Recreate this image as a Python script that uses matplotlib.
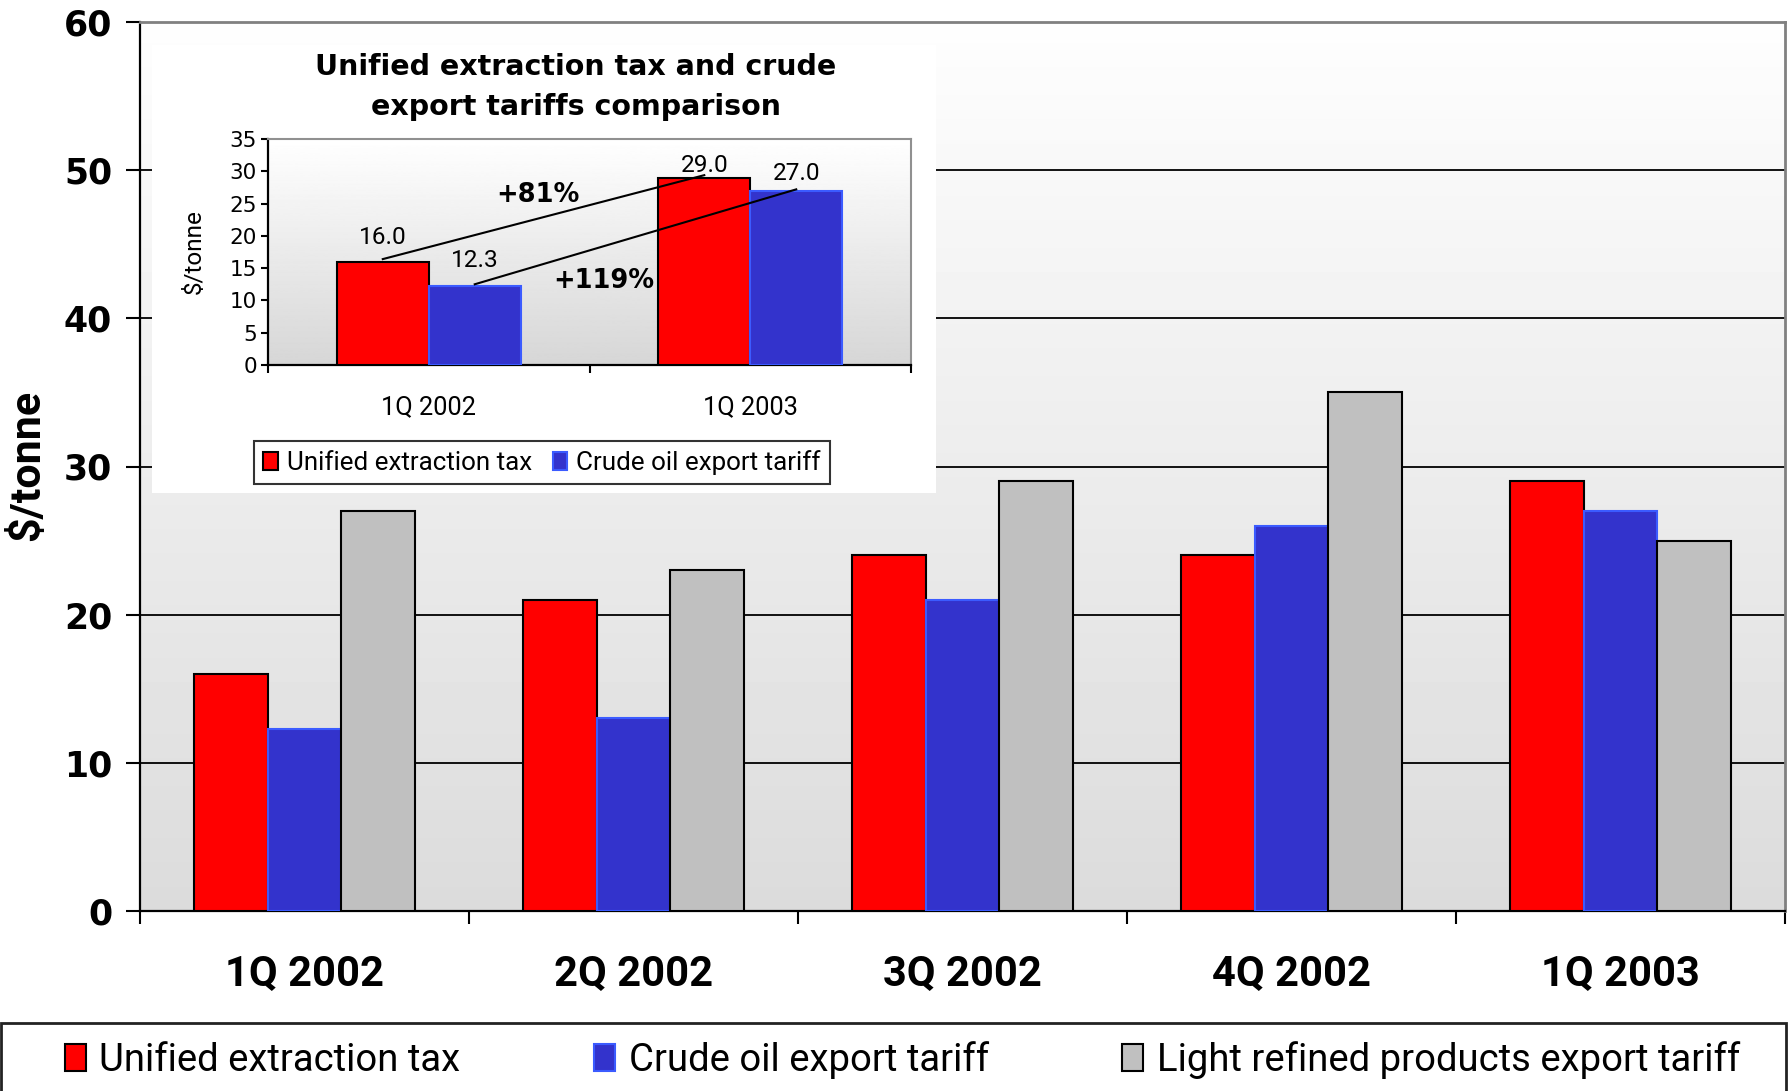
import numpy as np
import matplotlib
matplotlib.use('Agg')
import matplotlib.pyplot as plt
from matplotlib.patches import Rectangle

# quarterly taxes and tariffs, $/tonne
quarters = ['1Q 2002', '2Q 2002', '3Q 2002', '4Q 2002', '1Q 2003']
extraction_tax = [16, 21, 24, 24, 29]
crude_tariff = [12.3, 13, 21, 26, 27]
light_products_tariff = [27, 23, 29, 35, 25]
series_names = ['Unified extraction tax', 'Crude oil export tariff',
                'Light refined products export tariff']

# small comparison chart
inset_quarters = ['1Q 2002', '1Q 2003']
inset_tax = [16.0, 29.0]
inset_crude = [12.3, 27.0]
growth_labels = ['+81%', '+119%']

red = '#ff0000'
blue = '#3333cc'
blue_edge = '#3b5bff'
grey = '#c0c0c0'

W, H = 1789, 1091
fig = plt.figure(figsize=(W / 100, H / 100), dpi=100)
fig.patch.set_facecolor('white')

# ---- main chart ----
ax = fig.add_axes([140 / W, 1 - 911 / H, 1645 / W, 889 / H])
x = np.arange(len(quarters))
w = 0.224

grad = np.linspace(0.86, 0.995, 256).reshape(-1, 1)
ax.imshow(grad, extent=[-0.5, 4.5, 0, 60], origin='lower', aspect='auto',
          cmap='gray', vmin=0, vmax=1, zorder=0)

b1 = ax.bar(x - w, extraction_tax, w, color=red, edgecolor='black', linewidth=1.5, zorder=3)
b2 = ax.bar(x, crude_tariff, w, color=blue, edgecolor=blue_edge, linewidth=1.5, zorder=3)
b3 = ax.bar(x + w, light_products_tariff, w, color=grey, edgecolor='black', linewidth=1.5, zorder=3)

ax.set_xlim(-0.5, 4.5)
ax.set_ylim(0, 60)
ax.set_yticks(range(0, 61, 10))
ax.yaxis.grid(True, color='black', linewidth=1.3, zorder=1)
ax.set_axisbelow(True)

ax.set_xticks(np.arange(-0.5, 5), labels=[])
ax.set_xticks(x, quarters, minor=True)
ax.tick_params(axis='x', which='major', length=9, width=1.5, direction='out')
ax.tick_params(axis='x', which='minor', length=0, pad=31)
ax.tick_params(axis='y', length=10, width=1.5, pad=10)
for lbl in ax.get_xticklabels(minor=True):
    lbl.set_fontfamily('Roboto')
    lbl.set_fontweight('bold')
    lbl.set_fontsize(30)
for lbl in ax.get_yticklabels():
    lbl.set_fontweight('bold')
    lbl.set_fontsize(25)

for s in ['left', 'bottom']:
    ax.spines[s].set_color('black')
    ax.spines[s].set_linewidth(1.6)
for s in ['top', 'right']:
    ax.spines[s].set_color('#808080')
    ax.spines[s].set_linewidth(2)

fig.text(28 / W, 1 - 465 / H, '$/tonne', rotation=90, ha='center', va='center',
         fontfamily='Roboto', fontweight='bold', fontsize=31)

# white panel behind the comparison chart
fig.add_artist(Rectangle((152 / W, 1 - 493 / H), 784 / W, 448 / H,
                         transform=fig.transFigure, facecolor='white',
                         edgecolor='none', zorder=1))

fig.text(576 / W, 1 - 75 / H, 'Unified extraction tax and crude', ha='center',
         va='baseline', fontweight='bold', fontsize=20.5, zorder=3)
fig.text(576 / W, 1 - 115 / H, 'export tariffs comparison', ha='center',
         va='baseline', fontweight='bold', fontsize=20.5, zorder=3)

# ---- comparison chart ----
ax2 = fig.add_axes([268 / W, 1 - 365 / H, 643 / W, 226 / H], zorder=2)
xi = np.arange(len(inset_quarters))
wi = 0.286
grad2 = np.linspace(0.84, 1.0, 256).reshape(-1, 1)
ax2.imshow(grad2, extent=[-0.5, 1.5, 0, 35], origin='lower', aspect='auto',
           cmap='gray', vmin=0, vmax=1, zorder=0)
r1 = ax2.bar(xi - wi / 2, inset_tax, wi, color=red, edgecolor='black', linewidth=1.5, zorder=3)
r2 = ax2.bar(xi + wi / 2, inset_crude, wi, color=blue, edgecolor=blue_edge, linewidth=1.5, zorder=3)
ax2.set_xlim(-0.5, 1.5)
ax2.set_ylim(0, 35)
ax2.set_yticks(range(0, 36, 5))
ax2.set_xticks([-0.5, 0.5, 1.5], labels=[])
ax2.set_xticks(xi, inset_quarters, minor=True)
ax2.tick_params(axis='x', which='major', length=6, width=1.5)
ax2.tick_params(axis='x', which='minor', length=0, pad=22)
ax2.tick_params(axis='y', length=5, width=1.5, pad=3, labelsize=15.5)
for lbl in ax2.get_xticklabels(minor=True):
    lbl.set_fontfamily('Roboto')
    lbl.set_fontsize(18.3)
for s in ['left', 'bottom']:
    ax2.spines[s].set_color('black')
    ax2.spines[s].set_linewidth(1.6)
for s in ['top', 'right']:
    ax2.spines[s].set_color('#909090')
    ax2.spines[s].set_linewidth(1.5)
ax2.text(-0.115, 0.5, '$/tonne', transform=ax2.transAxes, rotation=90,
         ha='center', va='center', fontfamily='Roboto', fontsize=17.5)

# value labels and growth connectors
tax_offsets = [2.8, 0.9]
crude_offsets = [2.9, 1.65]
for i in range(len(xi)):
    ax2.text(xi[i] - wi / 2, inset_tax[i] + tax_offsets[i], f'{inset_tax[i]:.1f}',
             ha='center', va='baseline', fontfamily='Roboto', fontsize=17.6, zorder=4)
    ax2.text(xi[i] + wi / 2, inset_crude[i] + crude_offsets[i], f'{inset_crude[i]:.1f}',
             ha='center', va='baseline', fontfamily='Roboto', fontsize=17.6, zorder=4)
ax2.plot(xi - wi / 2, np.array(inset_tax) + 0.4, color='black', lw=1.5, zorder=5,
         clip_on=False)
ax2.plot(xi + wi / 2, np.array(inset_crude) + 0.2, color='black', lw=1.5, zorder=5,
         clip_on=False)
ax2.text(0.34, 26.3, growth_labels[0], ha='center', va='center',
         fontweight='bold', fontsize=18.5, zorder=5)
ax2.text(0.545, 13.05, growth_labels[1], ha='center', va='center',
         fontweight='bold', fontsize=18.5, zorder=5)

leg2 = ax2.legend([r1, r2], series_names[:2], loc='center',
                  bbox_to_anchor=(542 / W, 1 - 462.5 / H), bbox_transform=fig.transFigure,
                  ncol=2, frameon=True, fancybox=False, edgecolor='black',
                  handlelength=0.55, handleheight=0.7, handletextpad=0.35,
                  columnspacing=0.8, borderpad=0.35,
                  prop={'family': 'Roboto', 'size': 18.7})
leg2.get_frame().set_linewidth(1.5)

# ---- bottom legend ----
fig.add_artist(Rectangle((0.0008, -0.01), 0.9975, 1.01 - 1023 / H,
                         transform=fig.transFigure, facecolor='white',
                         edgecolor='#222222', linewidth=2, zorder=1))
fig.legend([b1, b2, b3], series_names, loc='center',
           bbox_to_anchor=(0.5045, 1 - 1060 / H), ncol=3, frameon=False,
           handlelength=0.55, handleheight=0.7, handletextpad=0.35,
           columnspacing=3.5, prop={'family': 'Roboto', 'size': 27.5})

fig.savefig('out.png', dpi=100)
